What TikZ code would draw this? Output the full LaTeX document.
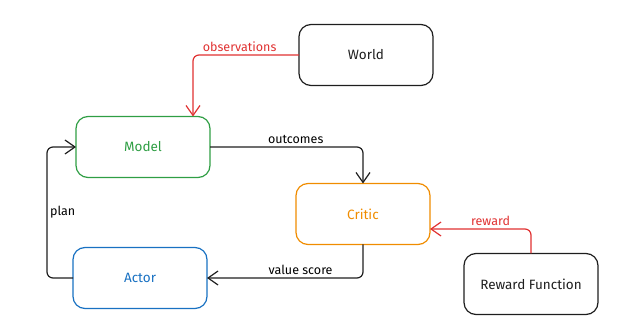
\documentclass[tikz,border=0pt]{standalone}
\usepackage{fontspec}
\setmainfont{Fira Sans}
\usetikzlibrary{arrows.meta,positioning}
\definecolor{rlInk}{RGB}{30,30,30}
\definecolor{rlGreen}{RGB}{47,158,68}
\definecolor{rlOrange}{RGB}{240,140,0}
\definecolor{rlBlue}{RGB}{25,113,194}
\definecolor{rlRed}{RGB}{224,49,49}

\begin{document}
\begin{tikzpicture}
    \tikzset{
      block/.style={rounded corners=12pt,draw=#1,text=#1,line width=1.2pt,minimum width=134pt,minimum height=61pt,outer sep=0pt,font=\fontsize{13.5}{16}\selectfont},
      block/.default=rlInk,
      link/.style={draw=#1,line width=1.2pt,rounded corners=6pt,-{Straight Barb[length=10pt,width=14pt,line width=1.2pt]}},
      link/.default=rlInk,
      tag/.style={font=\fontsize{12.5}{15}\selectfont,inner sep=2.5pt}
    }
    \useasboundingbox (0pt,0pt) rectangle (624pt,-331pt);
    \node[block=rlGreen] (model) at (143pt,-147pt) {Model};
    \node[block,on grid,above right=92pt and 223pt of model] (world) {World};
    \node[block=rlOrange,on grid,below right=67pt and 220pt of model] (critic) {Critic};
    \node[block=rlBlue,on grid,below=131pt of model,xshift=-3pt] (actor) {Actor};
    \node[block,on grid,below right=70pt and 168pt of critic] (reward) {Reward Function};
    \draw[link=rlRed] (world.west) -| node[tag,text=rlRed,above,pos=0.28] {observations} ([xshift=50pt]model.north);
    \draw[link] (model.east) -| node[tag,above,pos=0.28] {outcomes} (critic.north);
    \draw[link=rlRed] (reward.north) |- node[tag,text=rlRed,above,pos=0.7] {reward} ([yshift=-15pt]critic.east);
    \draw[link] (critic.south) |- node[tag,above,pos=0.7] {value score} (actor.east);
    \draw[link] (actor.west) -- ++(-26pt,0) |- node[tag,right,pos=0.25] {plan} (model.west);
  \end{tikzpicture}
\end{document}
